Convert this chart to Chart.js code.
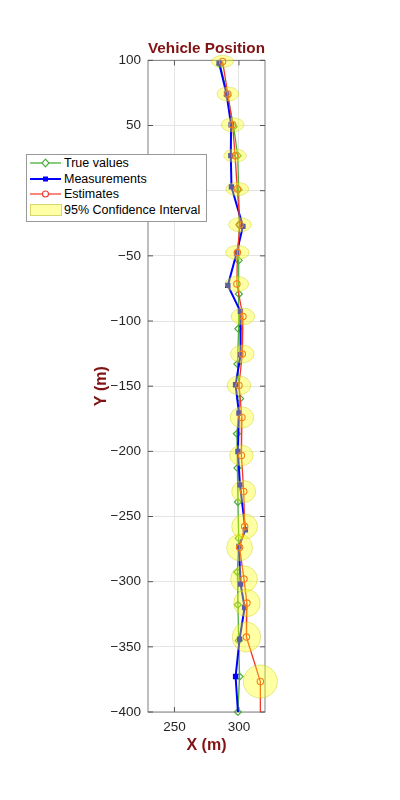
<!DOCTYPE html>
<html lang="en">
<head>
<meta charset="UTF-8">
<meta name="viewport" content="width=device-width, initial-scale=1.0">
<title>Vehicle Position</title>
<script src="https://cdn.jsdelivr.net/npm/chart.js"></script>
<style>
  body { margin: 0; background: #fff; font-family: "Liberation Sans", Arial, Helvetica, sans-serif; }
  #wrap { position: relative; width: 400px; height: 800px; }
  .legend { position: absolute; left: 26px; top: 154px; width: 179px; height: 66px; background: #fff; border: 1px solid #999; }
  .row { position: absolute; left: 0; width: 100%; height: 16px; line-height: 16px; font-size: 12.5px; color: #000; white-space: nowrap; }
  .row svg { position: absolute; left: 3px; top: 2px; }
  .row span { position: absolute; left: 37px; }
</style>
</head>
<body>

<div id="wrap">
  <canvas id="grafik"></canvas>
  <div class="legend">
    <div class="row" style="top:0px">
      <svg width="34" height="12"><line x1="0" y1="6" x2="31" y2="6" stroke="#4daf3c" stroke-width="1.3"/><polygon points="15.5,2.2 19,6 15.5,9.8 12,6" fill="#fff" stroke="#4daf3c" stroke-width="1.2"/></svg>
      <span>True values</span>
    </div>
    <div class="row" style="top:15.6px">
      <svg width="34" height="12"><line x1="0" y1="6" x2="31" y2="6" stroke="#0000ff" stroke-width="2"/><rect x="13" y="3.5" width="5" height="5" fill="#0000ff"/></svg>
      <span>Measurements</span>
    </div>
    <div class="row" style="top:31.2px">
      <svg width="34" height="12"><line x1="0" y1="6" x2="31" y2="6" stroke="#f4362a" stroke-width="1.2"/><circle cx="15.5" cy="6" r="3" fill="#fff" stroke="#f4362a" stroke-width="1.1"/></svg>
      <span>Estimates</span>
    </div>
    <div class="row" style="top:46.8px">
      <svg width="34" height="12"><rect x="0.5" y="0.5" width="31" height="11" fill="#ffffa6" stroke="#d6d66a" stroke-width="1"/></svg>
      <span>95% Confidence Interval</span>
    </div>
  </div>
</div>

<script>
  // tick labels
  const xTicks = [250, 300];
  const yTicks = [100, 50, 0, -50, -100, -150, -200, -250, -300, -350, -400];

  // true position
  const trueX = [285.5, 291.2, 295.9, 299.0, 299.8, 300.3, 299.8, 300.0, 299.5, 298.8, 300.9, 298.4, 298.8, 299.2, 299.8, 298.8, 299.2, 299.8, 300.5, 299.2];
  const trueY = [96.7, 72.9, 49.1, 26.9, 0.8, -26.1, -53.5, -79.3, -105.9, -133.0, -159.6, -186.5, -212.8, -238.9, -266.6, -292.6, -317.7, -345.2, -372.8, -400.0];

  // measurements (last one is just below the axis)
  const measX = [284.6, 290.4, 293.9, 293.7, 294.2, 303.1, 298.2, 291.4, 301.1, 301.3, 297.4, 300.0, 299.2, 300.8, 305.0, 300.0, 301.3, 304.4, 300.5, 297.4, 299.5];
  const measY = [97.9, 74.2, 50.6, 26.9, 2.9, -27.4, -47.8, -72.7, -92.6, -125.9, -148.9, -170.6, -200.1, -225.7, -260.2, -273.0, -301.9, -319.8, -344.1, -372.8, -404.0];

  // estimates (last one is just below the axis)
  const estX = [287.3, 291.4, 295.1, 297.0, 298.7, 300.8, 298.8, 298.4, 303.1, 302.6, 300.0, 302.3, 301.9, 303.7, 304.4, 300.5, 303.9, 306.2, 305.8, 316.6, 316.6];
  const estY = [99.2, 74.2, 50.6, 26.9, 1.3, -26.1, -47.4, -71.6, -96.5, -125.3, -149.4, -174.0, -203.2, -230.8, -257.7, -273.8, -298.0, -316.4, -342.5, -376.6, -410.0];

  // 95% interval half widths (m) around the estimates
  const ciRadX = [8.6, 8.4, 8.8, 8.8, 8.9, 8.8, 9.1, 9.1, 9.1, 9.1, 9.1, 9.1, 9.1, 9.3, 10.0, 10.0, 10.3, 10.3, 11.0, 13.2];
  const ciRadY = [4.6, 5.4, 5.4, 5.1, 5.1, 5.4, 5.4, 5.8, 6.4, 6.9, 7.3, 8.1, 7.9, 8.4, 9.6, 10.2, 10.2, 10.4, 11.5, 12.7];

  const huruf = "'Liberation Sans', Arial, Helvetica, sans-serif";
  const merahTua = '#801414';
  Chart.defaults.font.family = huruf;

  const titik = (xs, ys) => xs.map((x, i) => ({ x: x, y: ys[i] }));
  const minus = v => String(v).replace('-', '\u2212');

  // box around the axes with inward ticks
  const framePlugin = {
    id: 'frame',
    beforeDatasetsDraw(chart) {
      const { ctx, chartArea: a, scales: { x, y } } = chart;
      ctx.save();
      ctx.strokeStyle = '#808080';
      ctx.lineWidth = 1;
      ctx.strokeRect(a.left, a.top, a.right - a.left, a.bottom - a.top);
      ctx.beginPath();
      yTicks.forEach(v => {
        const py = y.getPixelForValue(v);
        ctx.moveTo(a.left, py); ctx.lineTo(a.left + 5, py);
        ctx.moveTo(a.right, py); ctx.lineTo(a.right - 5, py);
      });
      xTicks.forEach(v => {
        const px = x.getPixelForValue(v);
        ctx.moveTo(px, a.bottom); ctx.lineTo(px, a.bottom - 5);
        ctx.moveTo(px, a.top); ctx.lineTo(px, a.top + 5);
      });
      ctx.strokeStyle = '#555';
      ctx.stroke();
      ctx.restore();
    }
  };

  // confidence ellipses, drawn over the lines
  const ellipsePlugin = {
    id: 'ciEllipses',
    afterDatasetsDraw(chart) {
      const { ctx, scales: { x, y } } = chart;
      const meta = chart.getDatasetMeta(3);
      ctx.save();
      meta.data.forEach((pt, i) => {
        const rx = Math.abs(x.getPixelForValue(estX[i] + ciRadX[i]) - pt.x);
        const ry = Math.abs(y.getPixelForValue(estY[i] + ciRadY[i]) - pt.y);
        ctx.beginPath();
        ctx.ellipse(pt.x, pt.y, rx, ry, 0, 0, Math.PI * 2);
        ctx.fillStyle = 'rgba(255,255,0,0.36)';
        ctx.fill();
        ctx.strokeStyle = 'rgba(190,190,0,0.45)';
        ctx.lineWidth = 0.8;
        ctx.stroke();
      });
      ctx.restore();
    }
  };

  const ctx = document.getElementById('grafik').getContext('2d');
  new Chart(ctx, {
    type: 'scatter',
    data: {
      datasets: [
        {
          label: 'True values',
          data: titik(trueX, trueY),
          showLine: true,
          borderColor: '#4daf3c',
          borderWidth: 1.3,
          pointStyle: 'rectRot',
          pointRadius: 3.5,
          pointBorderWidth: 1.2,
          pointBorderColor: '#4daf3c',
          pointBackgroundColor: 'rgba(255,255,255,0)',
          order: 3,
          clip: 8
        },
        {
          label: 'Measurements',
          data: titik(measX, measY),
          showLine: true,
          borderColor: '#0000ff',
          borderWidth: 2,
          pointStyle: 'rect',
          pointRadius: 3.8,
          pointBorderWidth: 0,
          pointBackgroundColor: '#0000ff',
          order: 2,
          clip: { left: 8, top: 8, right: 8, bottom: 0 }
        },
        {
          label: 'Estimates',
          data: titik(estX, estY),
          showLine: true,
          borderColor: '#f4362a',
          borderWidth: 1.3,
          pointStyle: 'circle',
          pointRadius: 3.2,
          pointBorderWidth: 1.1,
          pointBorderColor: '#f4362a',
          pointBackgroundColor: 'rgba(255,255,255,0)',
          order: 1,
          clip: { left: 8, top: 8, right: 8, bottom: 0 }
        },
        {
          label: '95% Confidence Interval',
          data: titik(estX.slice(0, ciRadX.length), estY.slice(0, ciRadY.length)),
          showLine: false,
          pointRadius: 0,
          backgroundColor: '#ffffa6',
          borderColor: '#d6d66a',
          order: 0
        }
      ]
    },
    options: {
      responsive: true,
      maintainAspectRatio: false,
      animation: false,
      layout: { padding: { left: 88, right: 135, top: 40, bottom: 41 } },
      plugins: {
        legend: { display: false },
        tooltip: { enabled: false },
        title: {
          display: true,
          text: 'Vehicle Position',
          fullSize: false,
          color: merahTua,
          font: { size: 15.3, weight: 'bold' },
          padding: { top: 0, bottom: 2 }
        }
      },
      scales: {
        x: {
          type: 'linear',
          min: 229.5,
          max: 320.2,
          afterBuildTicks: s => { s.ticks = xTicks.map(v => ({ value: v })); },
          afterFit: s => { s.height = 47; },
          grid: { color: '#e4e4e4', drawTicks: false },
          border: { display: false },
          ticks: { padding: 7, color: '#262626', font: { size: 13.5 }, callback: v => minus(v) },
          title: { display: true, text: 'X (m)', color: merahTua, font: { size: 16, weight: 'bold' }, padding: { top: 0, bottom: 4 } }
        },
        y: {
          type: 'linear',
          min: -400,
          max: 100,
          afterBuildTicks: s => { s.ticks = yTicks.map(v => ({ value: v })); },
          afterFit: s => { s.width = 60; },
          grid: { color: '#e4e4e4', drawTicks: false },
          border: { display: false },
          ticks: { padding: 7, color: '#262626', font: { size: 13.5 }, callback: v => minus(v) },
          title: { display: true, text: 'Y (m)', color: merahTua, font: { size: 16, weight: 'bold' }, padding: { top: 4, bottom: 0 } }
        }
      }
    },
    plugins: [framePlugin, ellipsePlugin]
  });
</script>

</body>
</html>
